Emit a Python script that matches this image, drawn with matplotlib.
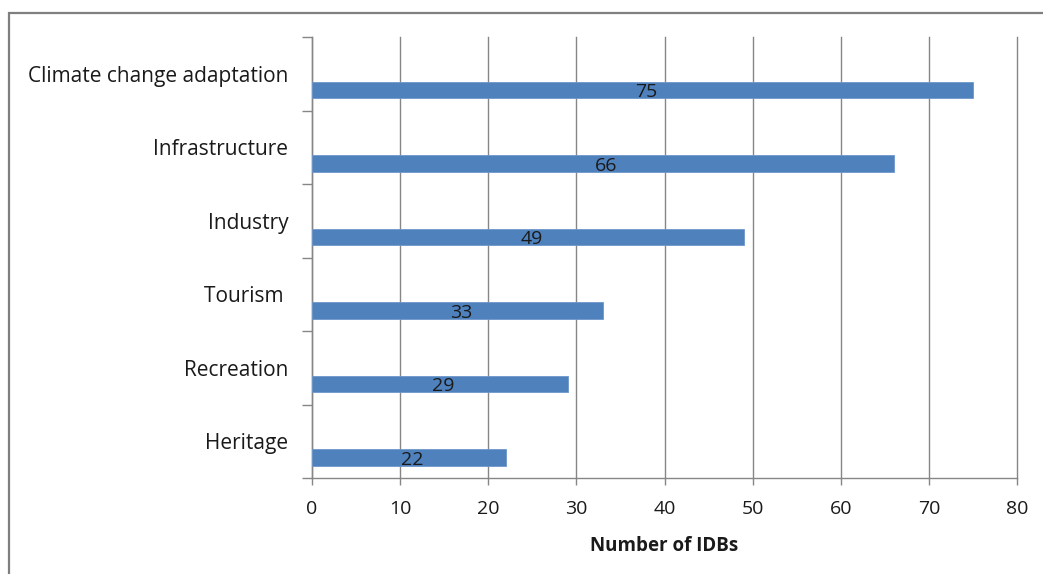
import matplotlib.pyplot as plt
from matplotlib.patches import Rectangle

# ==========================
# DATA
# ==========================

categories = ["Heritage", "Recreation", "Tourism ", "Industry",
              "Infrastructure", "Climate change adaptation"]
idb_counts = [22, 29, 33, 49, 66, 75]
x_ticks = [0, 10, 20, 30, 40, 50, 60, 70, 80]

plt.rcParams['font.family'] = ['Open Sans', 'DejaVu Sans']

fig = plt.figure(figsize=(10.43, 5.74), dpi=100)
ax = fig.add_axes([312 / 1043, 1 - 478 / 574, 705 / 1043, 441 / 574])

# outer chart frame
fig.patches.append(Rectangle((8.5 / 1043, -0.1), 1.2, 1.1 - 13 / 574,
                             transform=fig.transFigure, fill=False,
                             edgecolor="#7f7f7f", linewidth=1.6))

ypos = list(range(len(categories)))
bar_y = [y - 0.22 for y in ypos]
ax.barh(bar_y, idb_counts, height=0.225, color="#4F81BD",
        edgecolor="#6d97cc", linewidth=0.6, zorder=3)

for y, v in zip(bar_y, idb_counts):
    ax.text(v / 2 + 0.4, y - 0.03, str(v), ha="center", va="center",
            fontsize=14, color="#1a1a1a", zorder=4)

ax.set_xlim(0, 80)
ax.set_ylim(-0.5, len(categories) - 0.5)
ax.set_xticks(x_ticks)
ax.set_yticks(ypos)
ax.set_yticklabels(categories)
ax.set_yticks([y - 0.5 for y in ypos] + [len(categories) - 0.5], minor=True)

ax.tick_params(axis="y", which="major", length=0, pad=17,
               labelsize=15, labelcolor="#1a1a1a")
ax.tick_params(axis="y", which="minor", length=7, width=1, color="#868686")
ax.tick_params(axis="x", length=5, width=1, color="#868686",
               labelsize=14, labelcolor="#1a1a1a", pad=11)

ax.grid(axis="x", color="#868686", linewidth=1, zorder=0)
for gl in ax.get_xgridlines():
    gl.set_clip_on(False)
ax.set_axisbelow(True)
for side in ["top", "right"]:
    ax.spines[side].set_visible(False)
for side in ["left", "bottom"]:
    ax.spines[side].set_color("#868686")
    ax.spines[side].set_linewidth(1)

ax.set_xlabel("Number of IDBs", fontsize=13.5, fontweight="bold",
              color="#1a1a1a", labelpad=13)

plt.savefig("out.png", dpi=100)
plt.close()
